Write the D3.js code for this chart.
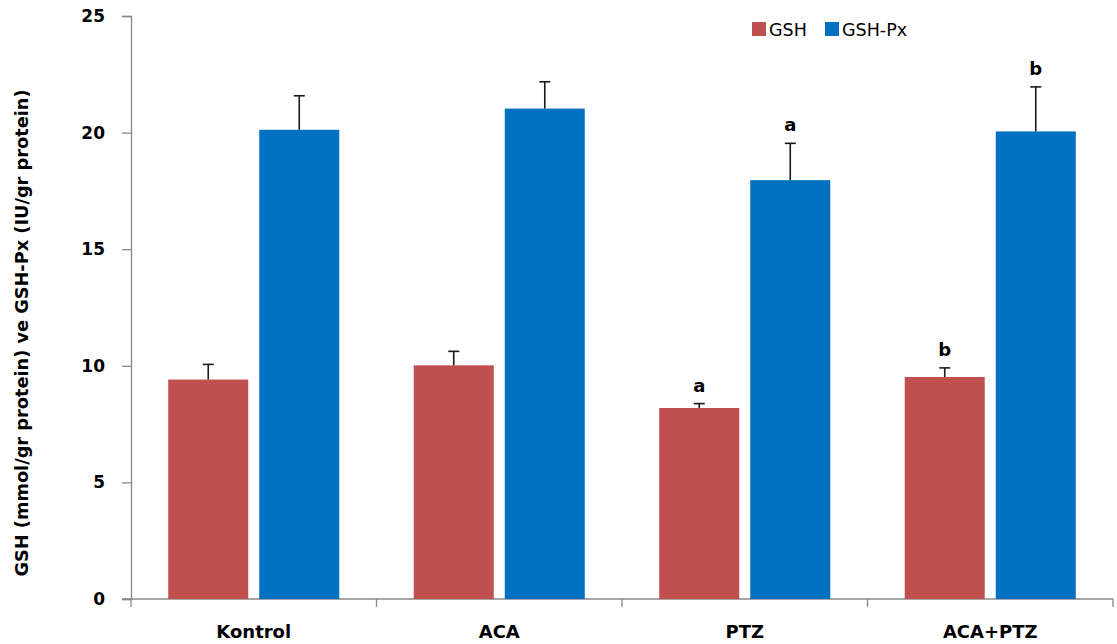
<!DOCTYPE html>
<html>
<head>
<meta charset="utf-8">
<script src="https://cdn.jsdelivr.net/npm/d3@7/dist/d3.min.js"></script>
<style>
  html, body { margin: 0; padding: 0; background: #fff; }
  svg { display: block; }
</style>
</head>
<body>
<svg id="chart" width="1117" height="644"></svg>
<script>
// Groups and measured series (mean with upward SEM whiskers)
const categories = ["Kontrol", "ACA", "PTZ", "ACA+PTZ"];
const seriesNames = ["GSH", "GSH-Px"];
const gshValues = [9.41, 10.02, 8.19, 9.52];
const gshErrors = [0.65, 0.60, 0.19, 0.39];
const gshpxValues = [20.12, 21.03, 17.96, 20.05];
const gshpxErrors = [1.46, 1.15, 1.58, 1.91];
// Significance letters over each bar
const gshLetters = ["", "", "a", "b"];
const gshpxLetters = ["", "", "a", "b"];
const yTicks = [0, 5, 10, 15, 20, 25];
const yTitle = "GSH (mmol/gr protein) ve GSH-Px (IU/gr protein)";

const colors = { "GSH": "#C0504D", "GSH-Px": "#0070C0" };
const axisColor = "#898989";

const series = [
  { name: "GSH", values: gshValues, errors: gshErrors, letters: gshLetters },
  { name: "GSH-Px", values: gshpxValues, errors: gshpxErrors, letters: gshpxLetters }
];

const rows = [];
series.forEach(s => {
  categories.forEach((c, i) => {
    rows.push({ cat: c, name: s.name, value: s.values[i], err: s.errors[i], letter: s.letters[i] });
  });
});

const svg = d3.select("#chart");
const plotLeft = 131, plotRight = 1113, plotTop = 16, plotBottom = 599;

const y = d3.scaleLinear().domain([0, 25]).range([plotBottom, plotTop]);
const x0 = d3.scaleBand().domain(categories).range([plotLeft, plotRight]).paddingInner(0).paddingOuter(0);
const x1 = d3.scaleBand().domain(seriesNames).range([0, x0.bandwidth()])
  .paddingInner(0.121).paddingOuter(0.409);

// Y axis
const yAxis = svg.append("g")
  .attr("transform", `translate(${plotLeft},0)`)
  .call(d3.axisLeft(y).tickValues(yTicks).tickSize(9).tickPadding(17).tickFormat(d3.format("d")));
yAxis.select(".domain").attr("stroke", axisColor).attr("stroke-width", 1.3);
yAxis.selectAll(".tick line").attr("stroke", axisColor).attr("stroke-width", 1.3);
yAxis.selectAll(".tick text")
  .attr("fill", "#000")
  .style("font-family", "'DejaVu Sans', sans-serif")
  .style("font-weight", "bold")
  .style("font-size", "17px");

// X axis: ticks on category boundaries
const boundaries = categories.map(c => x0(c)).concat([plotRight]);
const xAxisG = svg.append("g");
xAxisG.append("line")
  .attr("x1", plotLeft - 9).attr("x2", plotRight)
  .attr("y1", plotBottom).attr("y2", plotBottom)
  .attr("stroke", axisColor).attr("stroke-width", 1.3);
xAxisG.selectAll("line.xt").data(boundaries).join("line")
  .attr("class", "xt")
  .attr("x1", d => d).attr("x2", d => d)
  .attr("y1", plotBottom).attr("y2", plotBottom + 8)
  .attr("stroke", axisColor).attr("stroke-width", 1.3);
xAxisG.selectAll("text").data(categories).join("text")
  .attr("x", d => x0(d) + x0.bandwidth() / 2)
  .attr("y", 638)
  .attr("text-anchor", "middle")
  .style("font-family", "'DejaVu Sans', sans-serif")
  .style("font-weight", "bold")
  .style("font-size", "18px")
  .attr("fill", "#000")
  .text(d => d);

// Bars
const barX = d => x0(d.cat) + x1(d.name);
svg.append("g").selectAll("rect").data(rows).join("rect")
  .attr("x", barX)
  .attr("y", d => y(d.value))
  .attr("width", x1.bandwidth())
  .attr("height", d => y(0) - y(d.value))
  .attr("fill", d => colors[d.name]);

// Error whiskers (upper only)
const capHalf = 5.5;
const eb = svg.append("g").attr("stroke", "#1a1a1a").attr("stroke-width", 1.6);
eb.selectAll("line.v").data(rows).join("line")
  .attr("class", "v")
  .attr("x1", d => barX(d) + x1.bandwidth() / 2)
  .attr("x2", d => barX(d) + x1.bandwidth() / 2)
  .attr("y1", d => y(d.value))
  .attr("y2", d => y(d.value + d.err));
eb.selectAll("line.c").data(rows).join("line")
  .attr("class", "c")
  .attr("x1", d => barX(d) + x1.bandwidth() / 2 - capHalf)
  .attr("x2", d => barX(d) + x1.bandwidth() / 2 + capHalf)
  .attr("y1", d => y(d.value + d.err))
  .attr("y2", d => y(d.value + d.err));

// Significance letters
svg.append("g").selectAll("text").data(rows.filter(d => d.letter)).join("text")
  .attr("x", d => barX(d) + x1.bandwidth() / 2)
  .attr("y", d => y(d.value + d.err) - 12)
  .attr("text-anchor", "middle")
  .style("font-family", "'DejaVu Sans', sans-serif")
  .style("font-weight", "bold")
  .style("font-size", "18px")
  .attr("fill", "#000")
  .text(d => d.letter);

// Y axis title, fitted to the plot height
svg.append("text")
  .attr("transform", "translate(28,333) rotate(-90)")
  .attr("text-anchor", "middle")
  .style("font-family", "'DejaVu Sans', sans-serif")
  .style("font-weight", "bold")
  .style("font-size", "17px")
  .attr("textLength", 487)
  .attr("lengthAdjust", "spacingAndGlyphs")
  .attr("fill", "#000")
  .text(yTitle);

// Legend
const legendItems = [
  { name: "GSH", x: 752 },
  { name: "GSH-Px", x: 825 }
];
const lg = svg.append("g");
legendItems.forEach(it => {
  lg.append("rect")
    .attr("x", it.x).attr("y", 22)
    .attr("width", 14).attr("height", 14)
    .attr("fill", colors[it.name]);
  lg.append("text")
    .attr("x", it.x + 17).attr("y", 36)
    .style("font-family", "'DejaVu Sans', sans-serif")
    .style("font-size", "17.5px")
    .attr("fill", "#000")
    .text(it.name);
});
</script>
</body>
</html>
